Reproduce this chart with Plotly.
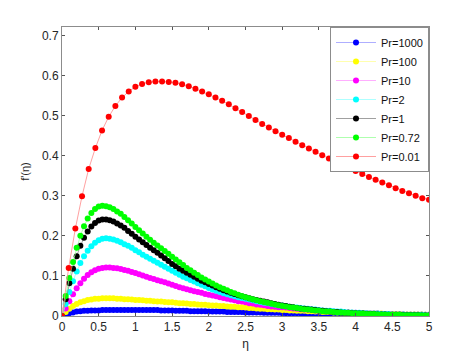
import numpy as np
import plotly.graph_objects as go

# ---------------- data ----------------
eta_dense = [round(i * 0.05, 2) for i in range(101)]
eta_red = list(np.linspace(0, 5, 56))

pr1000 = [0.000, 0.004, 0.007, 0.009, 0.011, 0.012, 0.013, 0.013, 0.014, 0.014,
          0.014, 0.015, 0.015, 0.015, 0.015, 0.015, 0.015, 0.015, 0.015, 0.015,
          0.015, 0.015, 0.015, 0.015, 0.015, 0.015, 0.015, 0.014, 0.014, 0.014,
          0.014, 0.013, 0.013, 0.013, 0.013, 0.012, 0.012, 0.012, 0.012, 0.012,
          0.011, 0.011, 0.011, 0.011, 0.011, 0.010, 0.010, 0.010, 0.010, 0.010,
          0.009, 0.009, 0.009, 0.009, 0.009, 0.008, 0.008, 0.008, 0.008, 0.008,
          0.007, 0.007, 0.007, 0.007, 0.007, 0.007, 0.006, 0.006, 0.006, 0.006,
          0.006, 0.006, 0.006, 0.006, 0.005, 0.005, 0.005, 0.005, 0.005, 0.005,
          0.005, 0.005, 0.005, 0.004, 0.004, 0.004, 0.004, 0.004, 0.004, 0.004,
          0.004, 0.004, 0.004, 0.003, 0.003, 0.003, 0.003, 0.003, 0.003, 0.003,
          0.003]

pr100 = [0.000, 0.010, 0.018, 0.025, 0.030, 0.034, 0.037, 0.040, 0.041, 0.043,
         0.043, 0.044, 0.044, 0.044, 0.044, 0.043, 0.043, 0.042, 0.042, 0.041,
         0.040, 0.040, 0.039, 0.038, 0.038, 0.037, 0.036, 0.036, 0.035, 0.034,
         0.034, 0.033, 0.032, 0.032, 0.031, 0.030, 0.030, 0.029, 0.028, 0.028,
         0.027, 0.026, 0.026, 0.025, 0.025, 0.024, 0.023, 0.023, 0.022, 0.022,
         0.021, 0.020, 0.020, 0.019, 0.018, 0.018, 0.017, 0.017, 0.016, 0.016,
         0.015, 0.015, 0.014, 0.014, 0.013, 0.013, 0.013, 0.012, 0.012, 0.011,
         0.011, 0.010, 0.010, 0.010, 0.009, 0.009, 0.009, 0.008, 0.008, 0.008,
         0.007, 0.007, 0.007, 0.007, 0.006, 0.006, 0.006, 0.006, 0.005, 0.005,
         0.005, 0.005, 0.005, 0.004, 0.004, 0.004, 0.004, 0.004, 0.004, 0.003,
         0.003]

pr10 = [0.000, 0.019, 0.037, 0.054, 0.069, 0.082, 0.093, 0.102, 0.109, 0.114,
        0.118, 0.120, 0.121, 0.121, 0.120, 0.119, 0.117, 0.115, 0.113, 0.110,
        0.107, 0.104, 0.101, 0.098, 0.095, 0.092, 0.089, 0.087, 0.084, 0.081,
        0.078, 0.075, 0.072, 0.069, 0.067, 0.064, 0.062, 0.060, 0.058, 0.055,
        0.053, 0.051, 0.049, 0.047, 0.045, 0.043, 0.041, 0.039, 0.037, 0.036,
        0.034, 0.032, 0.031, 0.029, 0.028, 0.027, 0.025, 0.024, 0.023, 0.022,
        0.022, 0.021, 0.020, 0.019, 0.018, 0.017, 0.016, 0.016, 0.015, 0.014,
        0.013, 0.013, 0.012, 0.011, 0.011, 0.010, 0.010, 0.009, 0.009, 0.008,
        0.008, 0.007, 0.007, 0.007, 0.006, 0.006, 0.006, 0.005, 0.005, 0.005,
        0.004, 0.004, 0.004, 0.004, 0.003, 0.003, 0.003, 0.003, 0.003, 0.002,
        0.002]

pr2 = [0.000, 0.030, 0.060, 0.087, 0.111, 0.132, 0.149, 0.163, 0.174, 0.183,
       0.189, 0.193, 0.194, 0.193, 0.191, 0.188, 0.184, 0.179, 0.175, 0.170,
       0.164, 0.159, 0.153, 0.148, 0.143, 0.138, 0.133, 0.128, 0.123, 0.118,
       0.113, 0.108, 0.103, 0.098, 0.094, 0.090, 0.086, 0.082, 0.078, 0.074,
       0.070, 0.066, 0.063, 0.060, 0.057, 0.054, 0.052, 0.049, 0.047, 0.045,
       0.043, 0.041, 0.039, 0.037, 0.035, 0.033, 0.032, 0.030, 0.029, 0.027,
       0.026, 0.025, 0.023, 0.022, 0.021, 0.020, 0.019, 0.018, 0.017, 0.016,
       0.015, 0.014, 0.013, 0.013, 0.012, 0.011, 0.011, 0.010, 0.009, 0.009,
       0.008, 0.008, 0.007, 0.007, 0.006, 0.006, 0.006, 0.005, 0.005, 0.005,
       0.004, 0.004, 0.004, 0.004, 0.003, 0.003, 0.003, 0.003, 0.003, 0.002,
       0.002]

pr1 = [0.000, 0.042, 0.082, 0.118, 0.149, 0.175, 0.195, 0.211, 0.223, 0.232,
       0.238, 0.241, 0.241, 0.239, 0.236, 0.231, 0.226, 0.220, 0.212, 0.205,
       0.198, 0.191, 0.184, 0.177, 0.170, 0.164, 0.158, 0.151, 0.144, 0.137,
       0.130, 0.124, 0.118, 0.113, 0.108, 0.103, 0.098, 0.093, 0.088, 0.084,
       0.080, 0.076, 0.072, 0.068, 0.064, 0.061, 0.058, 0.055, 0.052, 0.049,
       0.047, 0.044, 0.042, 0.040, 0.038, 0.036, 0.034, 0.032, 0.030, 0.028,
       0.026, 0.025, 0.023, 0.022, 0.020, 0.019, 0.018, 0.017, 0.016, 0.015,
       0.014, 0.013, 0.012, 0.011, 0.010, 0.010, 0.009, 0.008, 0.008, 0.007,
       0.007, 0.006, 0.006, 0.005, 0.005, 0.005, 0.004, 0.004, 0.004, 0.003,
       0.003, 0.003, 0.003, 0.002, 0.002, 0.002, 0.002, 0.002, 0.001, 0.001,
       0.001]

pr072 = [0.000, 0.050, 0.095, 0.135, 0.170, 0.200, 0.224, 0.243, 0.257, 0.267,
         0.273, 0.275, 0.274, 0.271, 0.267, 0.261, 0.255, 0.247, 0.239, 0.231,
         0.222, 0.214, 0.206, 0.198, 0.190, 0.183, 0.176, 0.169, 0.162, 0.155,
         0.148, 0.141, 0.134, 0.127, 0.120, 0.114, 0.108, 0.102, 0.096, 0.091,
         0.086, 0.081, 0.076, 0.072, 0.068, 0.064, 0.060, 0.057, 0.053, 0.050,
         0.047, 0.044, 0.042, 0.039, 0.037, 0.035, 0.033, 0.031, 0.029, 0.027,
         0.025, 0.024, 0.022, 0.021, 0.020, 0.018, 0.017, 0.016, 0.015, 0.014,
         0.013, 0.012, 0.011, 0.011, 0.010, 0.009, 0.009, 0.008, 0.008, 0.007,
         0.007, 0.006, 0.006, 0.005, 0.005, 0.005, 0.004, 0.004, 0.004, 0.003,
         0.003, 0.003, 0.003, 0.002, 0.002, 0.002, 0.002, 0.002, 0.001, 0.001,
         0.001]

pr001 = [0.000, 0.120, 0.218, 0.299, 0.367, 0.419, 0.463, 0.497, 0.524, 0.545,
         0.560, 0.572, 0.579, 0.583, 0.585, 0.585, 0.584, 0.582, 0.578, 0.573,
         0.567, 0.560, 0.553, 0.545, 0.537, 0.528, 0.518, 0.509, 0.499, 0.489,
         0.479, 0.470, 0.461, 0.452, 0.444, 0.435, 0.426, 0.418, 0.410, 0.401,
         0.393, 0.385, 0.377, 0.369, 0.362, 0.354, 0.347, 0.340, 0.333, 0.326,
         0.319, 0.312, 0.306, 0.300, 0.294, 0.290]

series_names = ["Pr=1000", "Pr=100", "Pr=10", "Pr=2", "Pr=1", "Pr=0.72", "Pr=0.01"]
series_vals = [pr1000, pr100, pr10, pr2, pr1, pr072, pr001]
series_x = [eta_dense] * 6 + [eta_red]
series_colors = ["#0000ff", "#ffff00", "#ff00ff", "#00ffff", "#000000", "#00ff00", "#ff0000"]
line_colors = ["#9999ff", "#ffff99", "#ff99ff", "#99ffff", "#888888", "#99ff99", "#ff8888"]

x_ticks = [0, 0.5, 1, 1.5, 2, 2.5, 3, 3.5, 4, 4.5, 5]
y_ticks = [0, 0.1, 0.2, 0.3, 0.4, 0.5, 0.6, 0.7]

# ---------------- figure ----------------
FONT = "Liberation Sans, Arial, sans-serif"
fig = go.Figure()
for name, xs, ys, mc, lc in zip(series_names, series_x, series_vals, series_colors, line_colors):
    fig.add_trace(go.Scatter(
        x=xs, y=ys, name=name, mode="lines+markers",
        line=dict(color=lc, width=0.8),
        marker=dict(color=mc, size=6, symbol="circle"),
    ))

axis_common = dict(
    showline=True, linecolor="#8c8c8c", linewidth=1, mirror="ticks",
    ticks="inside", ticklen=3, tickcolor="#555555",
    showgrid=False, zeroline=False, automargin=False,
    tickfont=dict(family=FONT, size=12, color="#262626"),
)
fig.update_xaxes(range=[0, 5], tickvals=x_ticks,
                 ticktext=[f"{v:g}" for v in x_ticks],
                 title=dict(text="η", font=dict(family=FONT, size=12, color="#262626"), standoff=6),
                 **axis_common)
fig.update_yaxes(range=[0, 0.721], tickvals=y_ticks,
                 ticktext=[f"{v:g}" for v in y_ticks],
                 title=dict(text="f'(η)", font=dict(family=FONT, size=11, color="#262626"), standoff=10),
                 **axis_common)

# page body has an 8px margin; figure sized/margined so the plot box lands where the reference has it
fig.update_layout(
    width=466, height=347,
    margin=dict(l=54, r=45, t=19, b=39),
    paper_bgcolor="white", plot_bgcolor="white",
    font=dict(family=FONT, size=12, color="#262626"),
    legend=dict(
        x=1, y=1, xanchor="right", yanchor="top",
        bgcolor="white", bordercolor="#8c8c8c", borderwidth=1,
        font=dict(family=FONT, size=11, color="#111111"),
        itemwidth=40, tracegroupgap=0,
    ),
    showlegend=True,
)

fig.write_html("out.html")
